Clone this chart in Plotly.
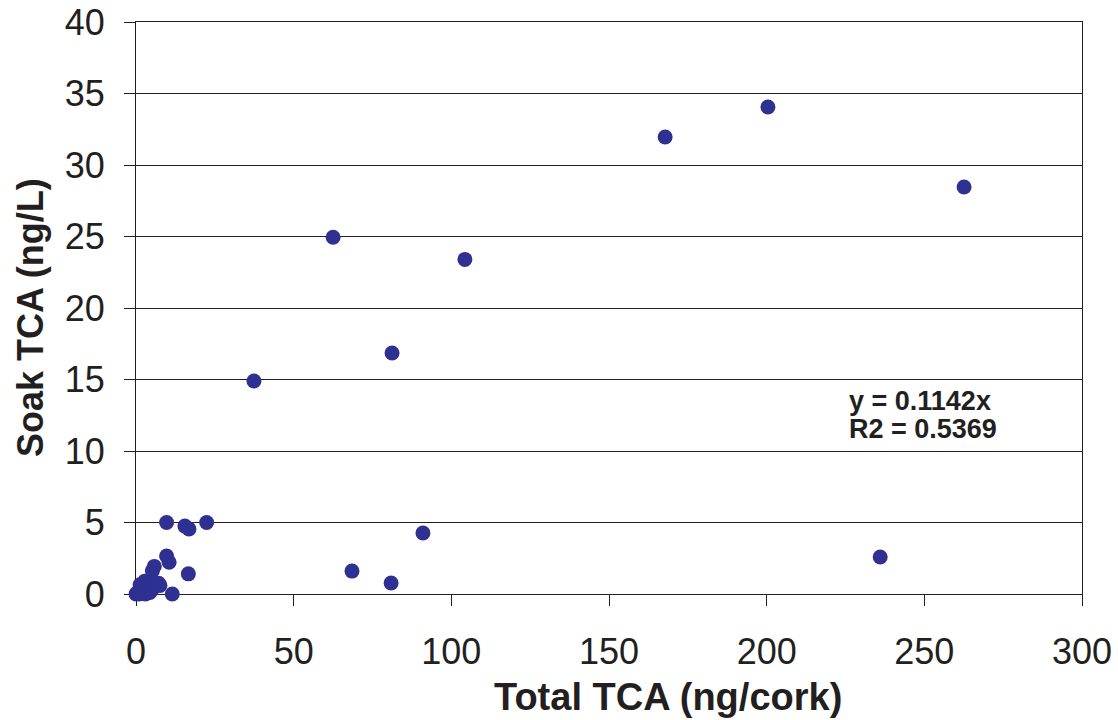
import plotly.graph_objects as go

total_tca = [0.0, 0.5, 1.0, 1.3, 2.0, 2.1, 2.8, 3.0, 3.5, 4.0, 4.4, 5.0, 5.5, 6.2, 7.1, 7.6,
             5.2, 5.8, 9.7, 10.5, 16.6, 11.5, 9.7, 15.5, 16.8, 22.4,
             37.4, 62.5, 81.2, 104.3, 68.5, 80.9, 91.0, 167.8, 200.4, 262.6, 236.0]
soak_tca = [0.0, 0.1, 0.0, 0.65, 0.3, 0.2, 0.9, 0.0, 0.5, 0.4, 0.1, 0.3, 0.5, 0.7, 0.76, 0.6,
            1.63, 1.93, 2.66, 2.22, 1.41, 0.0, 5.0, 4.75, 4.55, 5.0,
            14.9, 24.95, 16.85, 23.4, 1.6, 0.77, 4.27, 31.96, 34.06, 28.46, 2.59]

x_ticks = [0, 50, 100, 150, 200, 250, 300]
y_ticks = [0, 5, 10, 15, 20, 25, 30, 35, 40]

x_title = "Total TCA (ng/cork)"
y_title = "Soak TCA (ng/L)"
fit_lines = ["y = 0.1142x", "R2 = 0.5369"]

font = "Liberation Sans, Arial, Helvetica, sans-serif"
ink = "#231f20"

# plot-area geometry in pixels (for positioning text)
L, R, T, B = 136, 1082, 22, 594
W, H = R - L, B - T


def px_x(p):
    return (p - L) / W


def px_y(p):
    return (B - p) / H


fig = go.Figure()
fig.add_trace(go.Scatter(
    x=total_tca, y=soak_tca, mode="markers",
    marker=dict(size=15, color="#2E3192", line=dict(width=0)),
    cliponaxis=False, showlegend=False,
))

for txt, py in zip(fit_lines, [401, 429]):
    fig.add_annotation(
        x=px_x(847), y=px_y(py), xref="paper", yref="paper",
        xanchor="left", yanchor="middle",
        text="<b>" + txt + "</b>", showarrow=False,
        font=dict(family=font, size=27, color=ink),
    )

fig.add_annotation(
    x=px_x(668), y=px_y(697), xref="paper", yref="paper",
    xanchor="center", yanchor="middle", showarrow=False,
    text="<b>" + x_title + "</b>",
    font=dict(family=font, size=38, color=ink),
)
fig.add_annotation(
    x=px_x(30), y=px_y(318), xref="paper", yref="paper",
    xanchor="center", yanchor="middle", showarrow=False, textangle=-90,
    text="<b>" + y_title + "</b>",
    font=dict(family=font, size=36, color=ink),
)

fig.update_xaxes(
    range=[0, 300], tickvals=x_ticks, ticks="outside", ticklen=11, tickcolor=ink,
    ticklabelstandoff=15,
    showline=True, linecolor=ink, linewidth=1, mirror=True, showgrid=False,
    zeroline=False, layer="below traces",
    tickfont=dict(family=font, size=36, color=ink),
)
fig.update_yaxes(
    range=[0, 40], tickvals=y_ticks, ticks="outside", ticklen=11, tickcolor=ink,
    ticklabelstandoff=12,
    showline=True, linecolor=ink, linewidth=1, mirror=True,
    showgrid=True, gridcolor=ink, gridwidth=1,
    zeroline=False, layer="below traces",
    tickfont=dict(family=font, size=36, color=ink),
)

fig.update_layout(
    width=1118, height=720,
    margin=dict(l=L, r=1118 - R, t=T, b=720 - B, autoexpand=False),
    paper_bgcolor="white", plot_bgcolor="white",
)

fig.write_html("out.html")
